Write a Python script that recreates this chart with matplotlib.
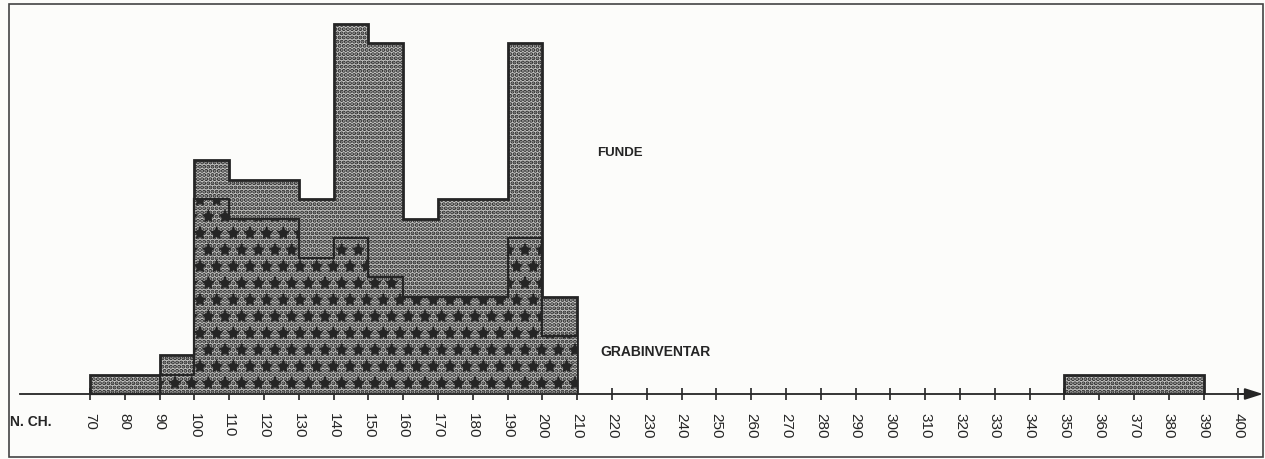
import matplotlib
matplotlib.use("Agg")
import matplotlib.pyplot as plt
from matplotlib.patches import Rectangle

# ---- data (counts per 10-unit class) ----
edges_main = [70, 80, 90, 100, 110, 120, 130, 140, 150, 160, 170, 180, 190, 200, 210]
funde_main = [1, 1, 2, 12, 11, 11, 10, 19, 18, 9, 10, 10, 18, 5]
grab_main = [0, 0, 1, 10, 9, 9, 7, 8, 6, 5, 5, 5, 8, 3]
edges_late = [350, 360, 370, 380, 390]
funde_late = [1, 1, 1, 1]
tick_values = list(range(70, 401, 10))
tick_labels = [str(v) for v in tick_values]
label_funde = "FUNDE"
label_grab = "GRABINVENTAR"
axis_label = "N. CH."

W, H = 1265, 459
plt.rcParams['font.family'] = ['Liberation Sans', 'DejaVu Sans']
plt.rcParams['hatch.color'] = '#2b2b2b'
paper = '#fcfcfa'
ink = '#252525'
shade = '#c6c6c4'


def hatched(patch, lw):
    if hasattr(patch, 'set_hatch_linewidth'):
        patch.set_hatch_linewidth(lw)
    return patch


fig = plt.figure(figsize=(W / 100, H / 100), dpi=100)
fig.patch.set_facecolor(paper)
ax = fig.add_axes([0, 0, 1, 1])
ax.set_facecolor('none')

px_per_unit = 3.48
x0 = 70 - 90 / px_per_unit
ax.set_xlim(x0, x0 + W / px_per_unit)
base_px = 394
unit_px = 19.5
ax.set_ylim(-(H - base_px) / unit_px, base_px / unit_px)

plt.rcParams['hatch.linewidth'] = 2.0
hatched(ax.stairs(funde_main, edges_main, fill=True, facecolor=shade, edgecolor=ink,
                  hatch='....', linewidth=2.0, zorder=2), 2.0)
hatched(ax.stairs(funde_late, edges_late, fill=True, facecolor=shade, edgecolor=ink,
                  hatch='....', linewidth=2.0, zorder=2), 2.0)
hatched(ax.stairs(grab_main, edges_main, fill=True, facecolor=shade, edgecolor=ink,
                  hatch='....', linewidth=0, zorder=3), 2.0)
stars = ax.stairs(grab_main, edges_main, fill=True, facecolor='none', edgecolor=ink,
                  hatch='*', linewidth=0, zorder=3.5)
hatched(stars, 1.0)
ax.stairs(grab_main, edges_main, fill=False, edgecolor=ink, linewidth=1.6, zorder=3.6,
          baseline=None)

for s in ['top', 'left', 'right']:
    ax.spines[s].set_visible(False)
ax.spines['bottom'].set_position(('data', 0))
ax.spines['bottom'].set_bounds(x0 + 20 / px_per_unit, x0 + 1248 / px_per_unit)
ax.spines['bottom'].set_linewidth(1.3)
ax.spines['bottom'].set_color(ink)
ax.spines['bottom'].set_zorder(4)
ax.annotate('', xy=(x0 + 1263 / px_per_unit, 0), xytext=(x0 + 1240 / px_per_unit, 0),
            arrowprops=dict(arrowstyle='-|>,head_length=1.1,head_width=0.35',
                            color=ink, lw=1.3, shrinkA=0, shrinkB=0), zorder=4)

ax.set_yticks([])
ax.set_xticks(tick_values)
ax.set_xticklabels(tick_labels, rotation=-90, fontsize=11, color=ink)
ax.tick_params(axis='x', direction='inout', length=9, width=1.2, color=ink, pad=9)

fig.text(10 / W, 1 - 422 / H, axis_label, fontsize=10, fontweight='bold',
         color=ink, ha='left', va='center')
fig.text(597 / W, 1 - 153 / H, label_funde, fontsize=9.5, fontweight='bold',
         color=ink, ha='left', va='center')
fig.text(600 / W, 1 - 352 / H, label_grab, fontsize=10, fontweight='bold',
         color=ink, ha='left', va='center')

fig.add_artist(Rectangle((8.5 / W, 1 - 457 / H), (1263 - 8.5) / W, (457 - 3.5) / H,
                         transform=fig.transFigure, fill=False, edgecolor='#444444',
                         linewidth=1.2))

fig.savefig('out.png', dpi=100, facecolor=fig.get_facecolor())
